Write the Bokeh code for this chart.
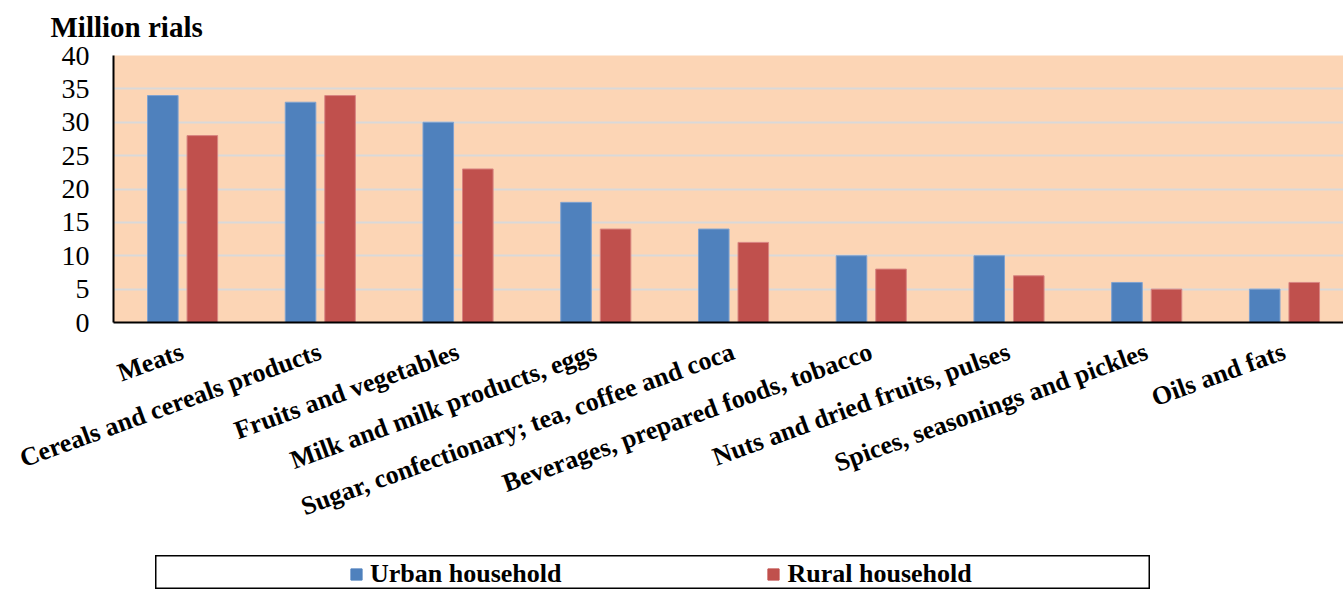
from bokeh.plotting import figure
from bokeh.models import Range1d, FixedTicker, Legend, LegendItem, Spacer
from bokeh.layouts import column, row
from bokeh.embed import file_html
from bokeh.resources import INLINE
import numpy as np

categories = ["Meats", "Cereals and cereals products", "Fruits and vegetables",
              "Milk and milk products, eggs", "Sugar, confectionary; tea, coffee and coca",
              "Beverages, prepared foods, tobacco", "Nuts and dried fruits, pulses",
              "Spices, seasonings and pickles", "Oils and fats"]
urban = [34, 33, 30, 18, 14, 10, 10, 6, 5]
rural = [28, 34, 23, 14, 12, 8, 7, 5, 6]
y_ticks = [0, 5, 10, 15, 20, 25, 30, 35, 40]
series_names = ["Urban household", "Rural household"]
unit_label = "Million rials"

URBAN_C = "#4F81BD"
RURAL_C = "#C0504D"
FONT = "Liberation Serif"

centers = np.arange(len(categories)) + 0.5

p = figure(width=1343, height=555, output_backend="svg", toolbar_location=None,
           x_range=Range1d(0, 8.93), y_range=Range1d(0, 40),
           min_border_left=113, min_border_right=0, min_border_top=55, min_border_bottom=233)
p.background_fill_color = "#FCD5B5"
p.border_fill_color = "white"
p.outline_line_color = None

r_u = p.vbar(x=centers - 0.142, top=urban, width=0.222, fill_color=URBAN_C,
             line_color="#7FA2D0", line_width=1)
r_r = p.vbar(x=centers + 0.145, top=rural, width=0.222, fill_color=RURAL_C,
             line_color="#D88582", line_width=1)

p.xgrid.grid_line_color = None
p.ygrid.grid_line_color = "#D9D9D9"
p.ygrid.grid_line_width = 2
p.ygrid.ticker = FixedTicker(ticks=y_ticks)

p.yaxis.ticker = FixedTicker(ticks=y_ticks)
p.yaxis.major_tick_out = 0
p.yaxis.major_tick_in = 0
p.yaxis.minor_tick_out = 0
p.yaxis.minor_tick_in = 0
p.yaxis.axis_line_color = "black"
p.yaxis.axis_line_width = 2
p.yaxis.major_label_standoff = 24
p.yaxis.major_label_text_font = FONT
p.yaxis.major_label_text_font_size = "28px"
p.yaxis.major_label_text_color = "black"

p.xaxis.ticker = FixedTicker(ticks=list(centers))
p.xaxis.major_label_overrides = {float(c): cat for c, cat in zip(centers, categories)}
p.xaxis.major_tick_out = 0
p.xaxis.major_tick_in = 0
p.xaxis.minor_tick_out = 0
p.xaxis.minor_tick_in = 0
p.xaxis.axis_line_color = "black"
p.xaxis.axis_line_width = 2
p.xaxis.major_label_orientation = 0.349
p.xaxis.major_label_standoff = 28
p.xaxis.major_label_text_font = FONT
p.xaxis.major_label_text_font_style = "bold"
p.xaxis.major_label_text_font_size = "26px"
p.xaxis.major_label_text_color = "black"

p.title.text = unit_label
p.title.align = "left"
p.title.vertical_align = "top"
p.title.offset = -63
p.title.standoff = 21
p.title.text_font = FONT
p.title.text_font_style = "bold"
p.title.text_font_size = "29px"
p.title.text_color = "black"

# legend panel
p2 = figure(width=995, height=34, output_backend="svg", toolbar_location=None,
            x_range=Range1d(0, 1), y_range=Range1d(0, 1), min_border=0)
p2.axis.visible = False
p2.grid.visible = False
p2.outline_line_color = "black"
p2.outline_line_width = 2
p2.background_fill_color = "white"
d_u = p2.vbar(x=[-5], top=[0], width=0.1, fill_color=URBAN_C, line_color=URBAN_C)
d_r = p2.vbar(x=[-5], top=[0], width=0.1, fill_color=RURAL_C, line_color=RURAL_C)
legend = Legend(items=[LegendItem(label=series_names[0], renderers=[d_u]),
                       LegendItem(label=series_names[1], renderers=[d_r])],
                orientation="horizontal", location=(194, 0), padding=0, margin=0,
                spacing=205, glyph_width=14, glyph_height=14, label_standoff=7,
                border_line_alpha=0, background_fill_alpha=0,
                label_text_font=FONT, label_text_font_style="bold",
                label_text_font_size="26px", label_text_color="black")
p2.add_layout(legend, "center")

layout = column(p, row(Spacer(width=155, height=34), p2))

open("out.html", "w").write(file_html(layout, INLINE))
